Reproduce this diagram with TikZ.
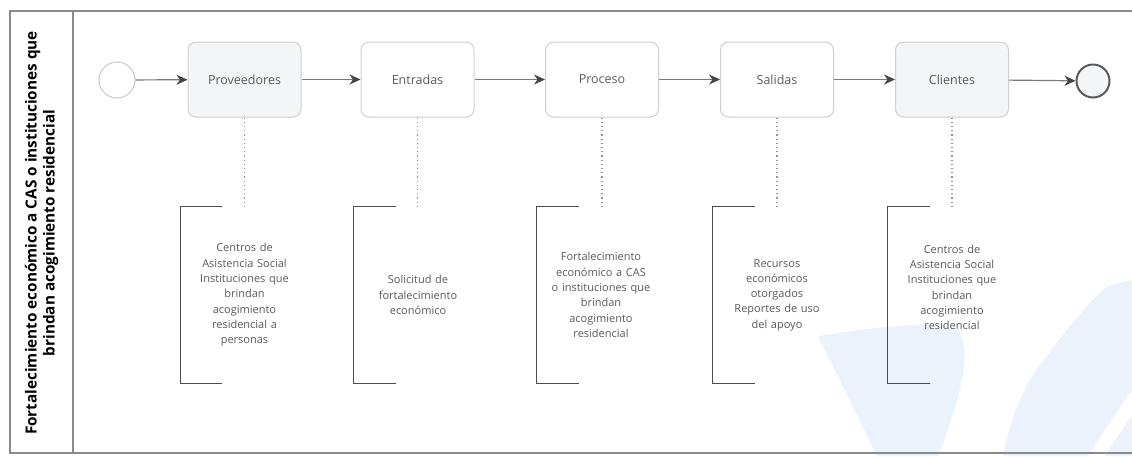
\documentclass[tikz,border=0pt]{standalone}
\usepackage{fontspec}
\setmainfont{Open Sans}
\usetikzlibrary{arrows.meta}

\definecolor{poolline}{HTML}{8A8A8A}
\definecolor{boxline}{HTML}{CFCFCF}
\definecolor{boxfill}{HTML}{F3F5F7}
\definecolor{flowline}{HTML}{7A7A7A}
\definecolor{tipgray}{HTML}{454545}
\definecolor{labelgray}{HTML}{5A5A5A}
\definecolor{bracketgray}{HTML}{4C4C4C}
\definecolor{wmblue}{RGB}{235,242,252}

\tikzset{
  task/.style={draw=boxline, line width=1pt, rounded corners=8pt, fill=white,
    minimum width=113pt, minimum height=75pt, text=labelgray,
    font=\fontsize{12.5}{14}\selectfont},
  shaded/.style={fill=boxfill},
  startev/.style={circle, draw=boxline, line width=1.2pt, fill=white, minimum size=36pt, inner sep=0pt},
  endev/.style={circle, draw=labelgray, line width=2pt, fill=boxfill, minimum size=33pt, inner sep=0pt},
  flow/.style={draw=flowline, line width=1.2pt,
    -{Stealth[length=11pt, width=10pt, inset=3.5pt, fill=tipgray, color=tipgray]}},
  assoc/.style={draw=flowline!80, line width=1.1pt, dash pattern=on 1.2pt off 3pt},
  annot/.style={minimum width=128pt, minimum height=176pt, inner sep=0pt,
    text width=124pt, align=center, text=labelgray,
    font=\fontsize{11}{15.3}\selectfont},
  bracket/.style={draw=bracketgray, line width=1.2pt},
  lanehead/.style={rotate=90, align=center, font=\bfseries\fontsize{15.3}{18}\selectfont}
}

\begin{document}
\begin{tikzpicture}[x=1pt, y=-1pt]
\useasboundingbox (0,0) rectangle (1132,456);
\fill[white] (0,0) rectangle (1132,456);
\clip (0,0) rectangle (1132,456);

% faint logo in the lower right corner
\fill[wmblue] (818,336) .. controls (880,326) and (930,322) .. (955,328)
  .. controls (975,345) and (960,400) .. (938,456) -- (877,456) -- cycle;
\fill[wmblue] (1035,372) .. controls (1062,335) and (1088,302) .. (1108,286)
  -- (1132,280) -- (1132,456) -- (1003,456) .. controls (1010,420) and (1022,392) .. cycle;
\draw[white, line width=14pt] (1092,462) -- (1136,396);

% pool and lane header
\draw[poolline, line width=1.1pt] (10,11) rectangle (1140,453);
\draw[poolline, line width=1.1pt] (73,11) -- (73,453);
\node[lanehead] (lane) at (41.5,233)
  {Fortalecimiento económico a CAS o instituciones que\\brindan acogimiento residencial};

% events and tasks
\node[startev] (start) at (117,80) {};
\node[task, shaded] (prov) at (244.5,79.5) {Proveedores};
\node[task] (entr) at (417.5,79.5) {Entradas};
\node[task] (proc) at (602,79.5) {Proceso};
\node[task] (sali) at (777,79.5) {Salidas};
\node[task, shaded] (clie) at (952,79.5) {Clientes};
\node[endev] (end) at (1093,81) {};

% sequence flows
\draw[flow] (start) -- (prov);
\draw[flow] (prov) -- (entr);
\draw[flow] (entr) -- (proc);
\draw[flow] (proc) -- (sali);
\draw[flow] (sali) -- (clie);
\draw[flow] (clie) -- (end);

% text annotations
\node[annot] (aprov) at (244.5,295) {Centros de\\Asistencia Social\\Instituciones que\\brindan\\acogimiento\\residencial a\\personas};
\node[annot] (aentr) at (418,295) {Solicitud de\\fortalecimiento\\económico};
\node[annot] (aproc) at (601,295) {Fortalecimiento\\económico a CAS\\o instituciones que\\brindan\\acogimiento\\residencial};
\node[annot] (asali) at (777,295) {Recursos\\económicos\\otorgados\\Reportes de uso\\del apoyo};
\node[annot] (aclie) at (952,295) {Centros de\\Asistencia Social\\Instituciones que\\brindan\\acogimiento\\residencial\\\mbox{}};

\foreach \a in {aprov,aentr,aproc,asali,aclie}
  \draw[bracket] ([xshift=42pt]\a.north west) -- (\a.north west) -- (\a.south west) -- ([xshift=42pt]\a.south west);

% associations
\draw[assoc] (prov.south) -- (prov.south |- aprov.north);
\draw[assoc] (entr.south) -- (entr.south |- aentr.north);
\draw[assoc] (proc.south) -- (proc.south |- aproc.north);
\draw[assoc] (sali.south) -- (sali.south |- asali.north);
\draw[assoc] (clie.south) -- (clie.south |- aclie.north);
\end{tikzpicture}
\end{document}
